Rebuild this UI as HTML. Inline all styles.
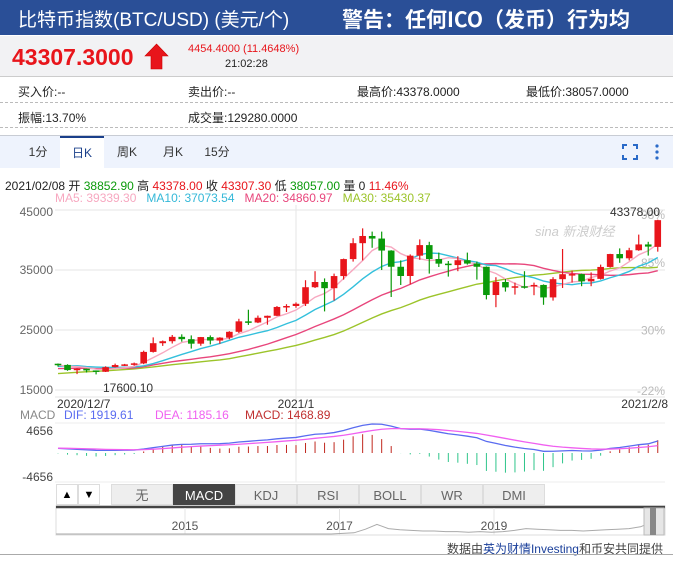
<!DOCTYPE html>
<html><head><meta charset="utf-8">
<style>
*{margin:0;padding:0;box-sizing:border-box}
body{width:673px;height:565px;overflow:hidden;background:#fff;font-family:"Liberation Sans","Noto Sans CJK SC",sans-serif;position:relative}
.abs{position:absolute;white-space:nowrap}
#hdr{position:absolute;left:0;top:0;width:673px;height:35px;background:#2a4f97;overflow:hidden}
#band{position:absolute;left:0;top:36px;width:673px;height:41px;background:#f2f2f4;border-bottom:1px solid #ccc}
.row{font-size:12px;color:#222}
.dash{position:absolute;left:0;width:673px;border-top:1px dashed #bbb}
#tabs{position:absolute;left:0;top:135px;width:673px;height:33px;background:#eef3fd;border-top:1px solid #c8ccd4}
.tab{position:absolute;top:0;height:33px;line-height:33px;font-size:12px;color:#333;text-align:center}
.btn{position:absolute;top:484px;height:21px;line-height:21px;font-size:13px;text-align:center;border:1px solid #ddd;background:#eee;color:#666}
</style></head>
<body>
<div id="hdr">
  <div class="abs" style="left:18px;top:5px;font-size:19px;color:#fff">比特币指数(BTC/USD) (美元/个)</div>
  <div class="abs" style="left:342px;top:4px;font-size:21px;font-weight:bold;color:#fff;font-family:'Noto Sans CJK SC','Liberation Sans',sans-serif">警告：任何ICO（发币）行为均</div>
</div>
<div id="band">
  <div class="abs" style="left:12px;top:8px;font-size:23px;font-weight:bold;color:#e8151b">43307.3000</div>
  <svg class="abs" style="left:144px;top:7px" width="25" height="27"><polygon points="12.5,1 24,13 18,13 18,26 7,26 7,13 1,13" fill="#e8151b" stroke="#c00" stroke-width="0.6"/></svg>
  <div class="abs" style="left:188px;top:7px;font-size:11px;color:#e8151b">4454.4000 (11.4648%)</div>
  <div class="abs" style="left:225px;top:22px;font-size:11px;color:#222">21:02:28</div>
</div>
<div class="abs row" style="left:18px;top:83px">买入价:--</div>
<div class="abs row" style="left:188px;top:83px">卖出价:--</div>
<div class="abs row" style="left:357px;top:83px">最高价:43378.0000</div>
<div class="abs row" style="left:526px;top:83px">最低价:38057.0000</div>
<div class="dash" style="top:102px"></div>
<div class="abs row" style="left:18px;top:109px">振幅:13.70%</div>
<div class="abs row" style="left:188px;top:109px">成交量:129280.0000</div>
<div class="dash" style="top:127px"></div>
<div id="tabs">
  <div class="tab" style="left:24px;width:28px">1分</div>
  <div class="tab" style="left:60px;width:44px;background:#fff;border-top:2px solid #1a3f8a;line-height:31px;color:#1a3f8a">日K</div>
  <div class="tab" style="left:112px;width:30px">周K</div>
  <div class="tab" style="left:158px;width:30px">月K</div>
  <div class="tab" style="left:200px;width:34px">15分</div>
  <svg class="abs" style="left:622px;top:8px" width="16" height="16"><path d="M1 5V1h4M11 1h4v4M15 11v4h-4M5 15H1v-4" fill="none" stroke="#2a6ac8" stroke-width="2"/></svg>
  <svg class="abs" style="left:654px;top:7px" width="6" height="18"><circle cx="3" cy="3" r="1.6" fill="#2a6ac8"/><circle cx="3" cy="9" r="1.6" fill="#2a6ac8"/><circle cx="3" cy="15" r="1.6" fill="#2a6ac8"/></svg>
</div>
<div class="abs" style="left:5px;top:177px;font-size:12px;color:#222">2021/02/08 开 <span style="color:#0a9a0a">38852.90</span> 高 <span style="color:#e8151b">43378.00</span> 收 <span style="color:#e8151b">43307.30</span> 低 <span style="color:#0a9a0a">38057.00</span> 量 0 <span style="color:#e8151b">11.46%</span></div>
<div class="abs" style="left:55px;top:191px;font-size:12px"><span style="color:#f7a8c0">MA5: 39339.30</span>&nbsp;&nbsp; <span style="color:#34b8d8">MA10: 37073.54</span>&nbsp;&nbsp; <span style="color:#e8467c">MA20: 34860.97</span>&nbsp;&nbsp; <span style="color:#9cc42a">MA30: 35430.37</span></div>

<svg id="chart" class="abs" style="left:0;top:0" width="673" height="565"></svg>

<div class="btn" style="left:56px;width:22px;background:#fff;color:#000;font-size:11px">▲</div>
<div class="btn" style="left:78px;width:22px;background:#fff;color:#000;font-size:11px">▼</div>
<div class="btn" style="left:111px;width:62px">无</div>
<div class="btn" style="left:173px;width:62px;background:#444;color:#fff;border-color:#444">MACD</div>
<div class="btn" style="left:235px;width:62px">KDJ</div>
<div class="btn" style="left:297px;width:62px">RSI</div>
<div class="btn" style="left:359px;width:62px">BOLL</div>
<div class="btn" style="left:421px;width:62px">WR</div>
<div class="btn" style="left:483px;width:62px">DMI</div>
<div class="abs" style="right:10px;top:540px;font-size:12px;color:#444">数据由<span style="color:#1a3f9a">英为财情Investing</span>和币安共同提供</div>
<div class="abs" style="left:0;top:554px;width:673px;border-top:1px solid #aaa"></div>

<script>
const preCloses=[14830,15480,15330,15300,15700,16280,16320,16070,15960,16720,17650,17800,17820,18680,18710,18420,18370,19160,18720,17150,17140,17720,18180,19700,18800,19220,19450,18700,19150,19360];
const opens=[19380,19180,18320,18550,18260,18040,18810,19160,19270,19440,21350,22800,23130,23860,23470,22720,23820,23240,23730,24700,26440,26250,27040,27370,28840,29000,29370,32130,33000,31970,33990,36820,39470,40670,40240,38240,35540,34000,37390,39150,36830,36060,35820,36630,36070,35540,30830,33000,32100,32290,32250,32510,30430,33470,34300,34320,33110,33520,35510,37660,36950,38290,39260,38853];
const highs=[19420,19290,18640,18560,18260,18950,19400,19350,19570,21560,23770,23250,24170,24280,24100,23840,24100,23800,24800,26870,28380,27410,27400,28990,29300,29600,33300,34800,33600,34400,36900,40300,41940,41400,41400,38300,36600,37600,40100,39700,37900,36500,37300,37900,36400,35600,33800,33500,32900,34800,32900,32600,33800,38500,34900,34400,34600,35900,37700,38600,38700,40900,39700,43378];
const lows=[18900,18200,17650,17910,17600,18000,18750,19000,19060,19300,21240,22350,22750,23060,21900,22370,22600,22700,23450,24500,25850,26150,25880,27320,28000,28700,29000,32000,28100,29900,33400,36400,36600,38700,35000,30500,32500,32600,36700,34400,35500,33900,34800,35900,33400,30100,28800,31400,30900,31900,30800,29200,29900,32000,32900,32300,32300,33400,35400,36200,36600,38200,37400,38057];
const closes=[19180,18320,18550,18260,18040,18810,19160,19270,19440,21350,22800,23130,23860,23470,22720,23820,23240,23730,24700,26440,26250,27040,27370,28840,29000,29370,32130,33000,31970,33990,36820,39470,40670,40240,38240,35540,34000,37390,39150,36830,36060,35820,36630,36070,35540,30830,33000,32100,32290,32250,32510,30430,33470,34300,34320,33110,33520,35510,37660,36950,38290,39260,38900,43307];
const yTicks=[45000,35000,25000,15000];
const pctTicks=["98%","85%","30%","-22%"];
const pctVals=[44300,36300,25100,15000];
const dateLabels=["2020/12/7","2021/1","2021/2/8"];
const dateIdx=[0,25,63];
const navYears=["2015","2017","2019"];
const navValues=[0,0,0,0,0,0,0,0,0,0,0,0,0,0,0,0,0,0,0,0,0,0,0,0,0,1,2,8,16,9,7,6,5,5,4,4,3,4,3,4,6,9,8,7,6,6,5,6,7,8,9,12,20];

const svg=document.getElementById('chart');
const NS='http://www.w3.org/2000/svg';
function mk(tag,attrs,parent){const e=document.createElementNS(NS,tag);for(const k in attrs)e.setAttribute(k,attrs[k]);(parent||svg).appendChild(e);return e;}
const X0=58,DX=9.52;
const xs=i=>X0+i*DX;
const ys=v=>390-(v-15000)*0.006;
yTicks.forEach((t,k)=>{const y=ys(t);
  const g=mk('line',{x1:55,x2:665,y1:y,y2:y,stroke:'#e6e6e6'});
  
  const tx=mk('text',{x:53,y:y+(k===0?6:4),'text-anchor':'end','font-size':12,fill:'#666'});tx.textContent=t;
  
});
mk('line',{x1:55,x2:665,y1:397,y2:397,stroke:'#e6e6e6'});
mk('line',{x1:xs(25),x2:xs(25),y1:205,y2:482,stroke:'#e6e6e6'});
pctTicks.forEach((p,k)=>{const tx=mk('text',{x:665,y:ys(pctVals[k])+5,'text-anchor':'end','font-size':12,fill:'#bbb'});tx.textContent=p;
  });
const wm=mk('text',{x:535,y:236,'font-size':13,fill:'#ccc','font-style':'italic'});wm.textContent='sina 新浪财经';

const all=preCloses.concat(closes);const P=preCloses.length;
function ma(n,c){const pts=[];for(let i=0;i<closes.length;i++){let s=0;for(let j=0;j<n;j++)s+=all[P+i-j];pts.push(xs(i)+','+ys(s/n));}
  const l=mk('polyline',{points:pts.join(' '),fill:'none',stroke:c,'stroke-width':1.4});return l;}
[[30,'#9cc42a','ma30-line'],[20,'#e8467c','ma20-line'],[10,'#34c0dc','ma10-line'],[5,'#f7a8c0','ma5-line']].forEach(m=>{const l=ma(m[0],m[1]);
  });
closes.forEach((c,i)=>{const o=opens[i],up=c>=o,col=up?'#e8151b':'#0a9a0a',x=xs(i);
  const g=mk('g',{});
  
  mk('line',{x1:x,x2:x,y1:ys(highs[i]),y2:ys(lows[i]),stroke:col,'stroke-width':1.2},g);
  const top=ys(Math.max(o,c)),h=Math.max(1.5,Math.abs(ys(o)-ys(c)));
  mk('rect',{x:x-3.3,y:top,width:6.6,height:h,fill:col},g);
});
const lo=mk('text',{x:103,y:392,'font-size':12,fill:'#333'});lo.textContent='17600.10';

const hi=mk('text',{x:660,y:216,'text-anchor':'end','font-size':12,fill:'#333'});hi.textContent='43378.00';

dateLabels.forEach((d,k)=>{const anc=k===0?'start':k===2?'end':'middle';const x=k===0?57:k===2?668:xs(dateIdx[k]);
  const t=mk('text',{x:x,y:408,'text-anchor':anc,'font-size':12,fill:'#333'});t.textContent=d;
  });
const ml=mk('text',{x:20,y:419,'font-size':12,fill:'#888'});ml.textContent='MACD';
const ml2=mk('text',{x:64,y:419,'font-size':12,fill:'#5a6cf0'});ml2.textContent='DIF: 1919.61';
const ml3=mk('text',{x:155,y:419,'font-size':12,fill:'#f060f0'});ml3.textContent='DEA: 1185.16';
const ml4=mk('text',{x:245,y:419,'font-size':12,fill:'#c03030'});ml4.textContent='MACD: 1468.89';
[ml,ml2,ml3,ml4].forEach(e=>{});
mk('line',{x1:55,x2:665,y1:423,y2:423,stroke:'#eee'});
mk('line',{x1:55,x2:665,y1:482,y2:482,stroke:'#eee'});
const t1=mk('text',{x:53,y:435,'text-anchor':'end','font-size':12,fill:'#444'});t1.textContent='4656';
const t2=mk('text',{x:53,y:481,'text-anchor':'end','font-size':12,fill:'#444'});t2.textContent='-4656';
const MY=v=>453-v*(29/4656);
let e12=all[0],e26=all[0],dea=0;const dif=[],deaA=[];
all.forEach((c,k)=>{e12=e12+(c-e12)*2/13;e26=e26+(c-e26)*2/27;const d=e12-e26;dea=dea+(d-dea)*2/10;if(k>=P){dif.push(d);deaA.push(dea);}});
dif.forEach((d,i)=>{const h=2*(d-deaA[i]);const b=mk('line',{x1:xs(i),x2:xs(i),y1:MY(0),y2:MY(h*1.4),stroke:h>=0?'#c0281e':'#2ec58a','stroke-width':1});
  });
const dl=mk('polyline',{points:dif.map((d,i)=>xs(i)+','+MY(d)).join(' '),fill:'none',stroke:'#5a6cf0','stroke-width':1.3});

const el=mk('polyline',{points:deaA.map((d,i)=>xs(i)+','+MY(d)).join(' '),fill:'none',stroke:'#f060f0','stroke-width':1.3});

const nav=mk('g',{});
mk('rect',{x:56,y:506,width:609,height:29,fill:'#fff',stroke:'#ddd'},nav);
mk('line',{x1:56,x2:665,y1:507,y2:507,stroke:'#444','stroke-width':2.5},nav);
navYears.forEach((y,k)=>{const x=185+k*154.5;mk('line',{x1:x,x2:x,y1:508,y2:535,stroke:'#e4e4e4'},nav);
  const t=mk('text',{x:x,y:530,'text-anchor':'middle','font-size':12,fill:'#555'},nav);t.textContent=y;});
const nx=i=>56+i*(596/(navValues.length-1)), ny=v=>534-v*0.6;
mk('polyline',{points:navValues.map((v,i)=>nx(i)+','+ny(v)).join(' '),fill:'none',stroke:'#aaa','stroke-width':1},nav);
mk('rect',{x:644,y:508,width:20,height:27,fill:'#e6e6e6',stroke:'#bbb'},nav);
mk('rect',{x:650,y:508,width:6,height:27,fill:'#888'},nav);
</script>
</body></html>
